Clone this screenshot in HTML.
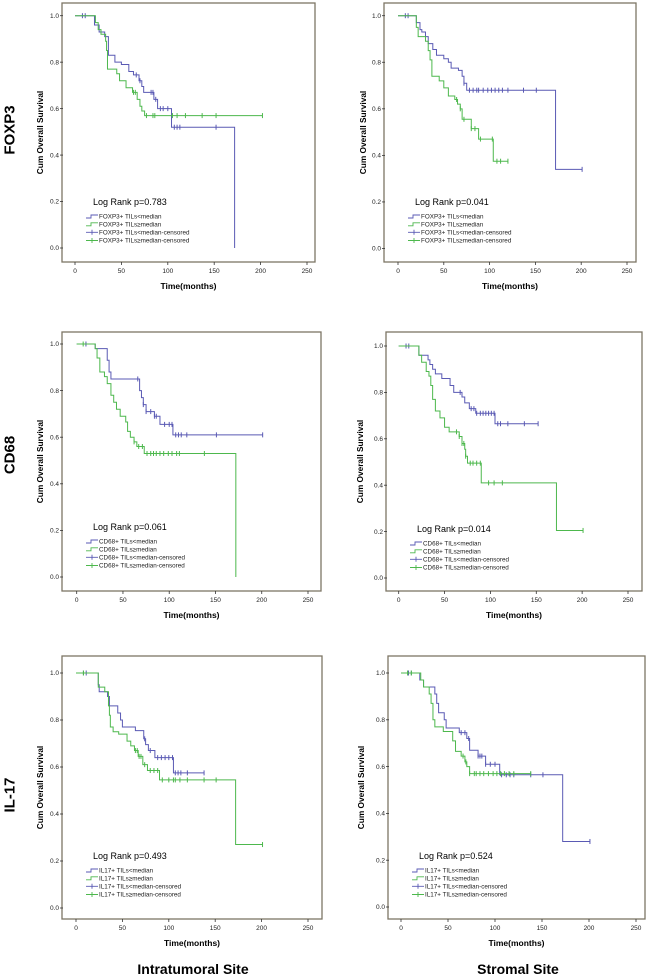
<!DOCTYPE html>
<html><head><meta charset="utf-8"><style>
body{margin:0;background:#fff;}
svg{display:block;font-family:"Liberation Sans",sans-serif;}
</style></head><body>
<svg id="fig" width="650" height="977" viewBox="0 0 650 977">
<text x="10" y="130" transform="rotate(-90 10 130)" text-anchor="middle" dominant-baseline="central" font-size="15" font-weight="bold">FOXP3</text>
<text x="10" y="455" transform="rotate(-90 10 455)" text-anchor="middle" dominant-baseline="central" font-size="15" font-weight="bold">CD68</text>
<text x="10" y="795" transform="rotate(-90 10 795)" text-anchor="middle" dominant-baseline="central" font-size="15" font-weight="bold">IL-17</text>
<text x="193" y="974" text-anchor="middle" font-size="14" font-weight="bold">Intratumoral Site</text>
<text x="518" y="974" text-anchor="middle" font-size="14" font-weight="bold">Stromal Site</text>
</svg>
<script>
// Data (time in months, survival proportion)
const p1BlueT=[21,26,32,36,43,50,58,63,69,72,74,85,89,104,172];
const p1BlueS=[0.96,0.93,0.91,0.83,0.80,0.79,0.76,0.745,0.72,0.695,0.67,0.64,0.60,0.52,0.0];
const p1BlueC=[8,11,66,70,82,84,87,92,95,100,107,110,113,152];
const p1GreenT=[22,25,28,33,34,35,45,48,55,62,67,70,72,75];
const p1GreenS=[0.97,0.94,0.92,0.89,0.85,0.77,0.75,0.72,0.69,0.67,0.64,0.61,0.59,0.57];
const p1GreenC=[63,65,77,84,86,105,110,119,137,152,202];

const p2BlueT=[20,24,26,30,33,38,42,50,55,58,66,70,72,75,172];
const p2BlueS=[0.97,0.94,0.93,0.91,0.88,0.855,0.83,0.815,0.80,0.775,0.765,0.74,0.71,0.68,0.34];
const p2BlueC=[8,11,72,78,82,86,88,93,98,102,106,110,114,120,137,151,201];
const p2GreenT=[20,22,30,33,35,37,45,50,55,62,65,68,70,80,88,104];
const p2GreenS=[0.95,0.91,0.89,0.85,0.81,0.74,0.72,0.69,0.655,0.64,0.62,0.60,0.555,0.515,0.47,0.375];
const p2GreenC=[64,68,72,80,84,90,103,108,112,120];

const p3BlueT=[20,33,35,37,68,70,72,75,84,90,104];
const p3BlueS=[0.98,0.93,0.88,0.85,0.80,0.77,0.74,0.71,0.69,0.655,0.61];
const p3BlueC=[10,66,72,75,80,84,86,95,100,103,107,110,113,119,151,201];
const p3GreenT=[20,22,25,30,33,37,40,43,47,53,55,58,62,65,73,172];
const p3GreenS=[0.98,0.94,0.88,0.86,0.83,0.78,0.75,0.72,0.69,0.665,0.625,0.60,0.58,0.56,0.53,0.0];
const p3GreenC=[7,62,67,71,76,80,83,86,90,94,99,103,108,111,138];

const p4BlueT=[22,32,34,37,40,47,56,60,69,72,77,84,105];
const p4BlueS=[0.96,0.94,0.92,0.90,0.88,0.86,0.83,0.80,0.78,0.755,0.73,0.71,0.665];
const p4BlueC=[8,11,67,79,82,85,89,92,95,98,101,104,108,111,119,137,152];
const p4GreenT=[22,25,30,33,35,37,40,45,50,55,66,69,72,73,75,90,172];
const p4GreenS=[0.96,0.93,0.89,0.87,0.83,0.77,0.72,0.69,0.65,0.63,0.61,0.58,0.555,0.525,0.495,0.41,0.205];
const p4GreenC=[63,66,69,71,73,78,81,85,89,98,104,113,201];

const p5BlueT=[24,25,34,36,45,48,50,64,73,75,78,85,105];
const p5BlueS=[0.95,0.92,0.90,0.86,0.83,0.80,0.77,0.755,0.72,0.695,0.67,0.64,0.575];
const p5BlueC=[8,11,74,80,88,92,96,100,104,107,110,113,120,138];
const p5GreenT=[24,31,35,36,37,40,46,55,59,63,67,72,77,90,172];
const p5GreenS=[0.94,0.92,0.86,0.82,0.77,0.75,0.74,0.71,0.69,0.67,0.645,0.61,0.585,0.545,0.27];
const p5GreenC=[8,64,66,68,70,74,80,84,88,93,100,105,107,112,120,138,151,201];

const p6BlueT=[20,24,36,38,40,46,48,62,70,73,82,90,105,172];
const p6BlueS=[0.97,0.94,0.91,0.87,0.83,0.80,0.765,0.745,0.72,0.67,0.645,0.61,0.565,0.28];
const p6BlueC=[8,11,64,68,72,82,84,86,90,95,100,107,112,116,120,138,151,201];
const p6GreenT=[21,24,30,32,34,36,45,55,58,64,68,70,73];
const p6GreenS=[0.97,0.94,0.91,0.87,0.80,0.77,0.75,0.71,0.665,0.645,0.62,0.60,0.57];
const p6GreenC=[7,11,66,69,73,78,80,84,88,93,98,102,106,110,115,120,138];

const xTicks=[0,50,100,150,200,250];
const yTicks=[0,0.2,0.4,0.6,0.8,1.0];
const yTickLabels=["0.0","0.2","0.4","0.6","0.8","1.0"];

const panels=[
 {id:'foxp3-intratumoral',m:'FOXP3',p:'0.783',fl:62,fr:315,ft:3,fb:262,x0:75,x1:307,y1:15.7,y0:248,top:0,ylx:40,blue:[p1BlueT,p1BlueS,p1BlueC],green:[p1GreenT,p1GreenS,p1GreenC]},
 {id:'foxp3-stromal',m:'FOXP3',p:'0.041',fl:384,fr:636,ft:3,fb:262,x0:398,x1:627,y1:15.7,y0:248.5,top:0,ylx:363,blue:[p2BlueT,p2BlueS,p2BlueC],green:[p2GreenT,p2GreenS,p2GreenC]},
 {id:'cd68-intratumoral',m:'CD68',p:'0.061',fl:62,fr:321,ft:332,fb:591,x0:76.7,x1:308,y1:344,y0:577,top:325,ylx:40,blue:[p3BlueT,p3BlueS,p3BlueC],green:[p3GreenT,p3GreenS,p3GreenC]},
 {id:'cd68-stromal',m:'CD68',p:'0.014',fl:386,fr:642,ft:332,fb:591,x0:398.7,x1:628,y1:346,y0:578,top:327,ylx:360,blue:[p4BlueT,p4BlueS,p4BlueC],green:[p4GreenT,p4GreenS,p4GreenC]},
 {id:'il17-intratumoral',m:'IL17',p:'0.493',fl:62,fr:322,ft:656,fb:919,x0:76,x1:308,y1:673,y0:908,top:654,ylx:40,blue:[p5BlueT,p5BlueS,p5BlueC],green:[p5GreenT,p5GreenS,p5GreenC]},
 {id:'il17-stromal',m:'IL17',p:'0.524',fl:388,fr:645,ft:656,fb:919,x0:401,x1:636,y1:673,y0:907,top:654,ylx:361,blue:[p6BlueT,p6BlueS,p6BlueC],green:[p6GreenT,p6GreenS,p6GreenC]}
];
const NS='http://www.w3.org/2000/svg';
const svg=document.getElementById('fig');
function mk(tag,attrs,parent){const e=document.createElementNS(NS,tag);for(const k in attrs)e.setAttribute(k,attrs[k]);(parent||svg).appendChild(e);return e;}
function stepAt(T,S,t){let s=1;for(let i=0;i<T.length;i++){if(T[i]<=t)s=S[i];}return s;}
panels.forEach(P=>{
 const g=mk('g',{});
 
 
 const X=t=>P.x0+(P.x1-P.x0)*t/250;
 const Y=s=>P.y0+(P.y1-P.y0)*s;
 const fr=mk('rect',{x:P.fl,y:P.ft,width:P.fr-P.fl,height:P.fb-P.ft,fill:'none',stroke:'#7d7565','stroke-width':1.3},g);
 
 
 xTicks.forEach(v=>{
  const l=mk('line',{x1:X(v),x2:X(v),y1:P.fb,y2:P.fb+3,stroke:'#333','stroke-width':0.8},g);
  
  
  const t=mk('text',{x:X(v),y:P.fb+11,'text-anchor':'middle','font-size':6.5,fill:'#222'},g);
  
  
  t.textContent=v;
 });
 yTicks.forEach((v,i)=>{
  const l=mk('line',{x1:P.fl-2,x2:P.fl+1,y1:Y(v),y2:Y(v),stroke:'#333','stroke-width':0.8},g);
  
  
  const t=mk('text',{x:P.fl-3,y:Y(v)+2.2,'text-anchor':'end','font-size':6.5,fill:'#222'},g);
  
  
  t.textContent=yTickLabels[i];
 });
 const cy=(P.ft+P.fb)/2;
 const yl=mk('text',{x:P.ylx,y:cy,transform:`rotate(-90 ${P.ylx} ${cy})`,'text-anchor':'middle','dominant-baseline':'central','font-size':8.3,'font-weight':'bold'},g);
 
 
 yl.textContent='Cum Overall Survival';
 const xl=mk('text',{x:(P.fl+P.fr)/2,y:P.fb+27,'text-anchor':'middle','font-size':8.5,'font-weight':'bold'},g);
 
 
 xl.textContent='Time(months)';
 [['blue','#5a5ab4',P.blue],['green','#4db84d',P.green]].forEach(([nm,col,D])=>{
  const [T,S,C]=D;
  let d=`M${X(0)},${Y(1)}`;let s=1;
  for(let i=0;i<T.length;i++){d+=` H${X(T[i])} V${Y(S[i])}`;s=S[i];}
  const lastT=Math.max(T[T.length-1],C.length?C[C.length-1]:0);
  if(s>0)d+=` H${X(lastT)}`;
  const p=mk('path',{d:d,fill:'none',stroke:col,'stroke-width':1},g);
  
  
  C.forEach(c=>{
   const cx=X(c),cyy=Y(stepAt(T,S,c));
   const m=mk('line',{x1:cx,x2:cx,y1:cyy-2.5,y2:cyy+2.5,stroke:col,'stroke-width':1},g);
   
   
  });
 });
 const lx=P.fl+31, base=P.top;
 const lr=mk('text',{x:lx,y:base+205,'font-size':9},g);
 
 
 lr.textContent='Log Rank p='+P.p;
 const mk2=P.m==='IL17'?'IL17+':P.m+'+';
 const items=[[mk2+' TILs<median','#5a5ab4',0],[mk2+' TILs\u2265median','#4db84d',0],[mk2+' TILs<median-censored','#5a5ab4',1],[mk2+' TILs\u2265median-censored','#4db84d',1]];
 const rows=[216.5,224.3,232.3,240.5];
 items.forEach((it,i)=>{
  const yy=base+rows[i];const sx=P.fl+24;
  const leg=mk('g',{},g);
  
  
  if(it[2]===0){mk('path',{d:`M${sx},${yy+1.5} H${sx+5} V${yy-1.5} H${sx+12}`,fill:'none',stroke:it[1],'stroke-width':0.9},leg);}
  else{mk('path',{d:`M${sx},${yy} H${sx+12} M${sx+6},${yy-2.5} V${yy+2.5}`,fill:'none',stroke:it[1],'stroke-width':0.9},leg);}
  const t=mk('text',{x:sx+13,y:yy+2.2,'font-size':6.3,fill:'#222'},leg);
  t.textContent=it[0];
 });
});
</script>
</body></html>
